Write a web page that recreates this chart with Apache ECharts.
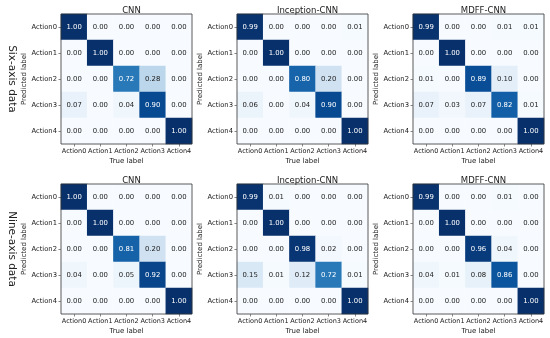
<!DOCTYPE html>
<html><head><meta charset="utf-8">
<script src="https://cdn.jsdelivr.net/npm/echarts@6/dist/echarts.min.js"></script>
<style>html,body{margin:0;padding:0;background:#fff}#c{width:550px;height:338px}</style>
</head><body><div id="c"></div>
<script>
const actions = ['Action0','Action1','Action2','Action3','Action4'];
const modelNames = ['CNN','Inception-CNN','MDFF-CNN'];
const rowNames = ['Six-axis data','Nine-axis data'];
// rows = predicted label, columns = true label
const cnnSix = [
  [1.00,0.00,0.00,0.00,0.00],
  [0.00,1.00,0.00,0.00,0.00],
  [0.00,0.00,0.72,0.28,0.00],
  [0.07,0.00,0.04,0.90,0.00],
  [0.00,0.00,0.00,0.00,1.00]];
const inceptionSix = [
  [0.99,0.00,0.00,0.00,0.01],
  [0.00,1.00,0.00,0.00,0.00],
  [0.00,0.00,0.80,0.20,0.00],
  [0.06,0.00,0.04,0.90,0.00],
  [0.00,0.00,0.00,0.00,1.00]];
const mdffSix = [
  [0.99,0.00,0.00,0.01,0.01],
  [0.00,1.00,0.00,0.00,0.00],
  [0.01,0.00,0.89,0.10,0.00],
  [0.07,0.03,0.07,0.82,0.01],
  [0.00,0.00,0.00,0.00,1.00]];
const cnnNine = [
  [1.00,0.00,0.00,0.00,0.00],
  [0.00,1.00,0.00,0.00,0.00],
  [0.00,0.00,0.81,0.20,0.00],
  [0.04,0.00,0.05,0.92,0.00],
  [0.00,0.00,0.00,0.00,1.00]];
const inceptionNine = [
  [0.99,0.01,0.00,0.00,0.00],
  [0.00,1.00,0.00,0.00,0.00],
  [0.00,0.00,0.98,0.02,0.00],
  [0.15,0.01,0.12,0.72,0.01],
  [0.00,0.00,0.00,0.00,1.00]];
const mdffNine = [
  [0.99,0.00,0.00,0.01,0.00],
  [0.00,1.00,0.00,0.00,0.00],
  [0.00,0.00,0.96,0.04,0.00],
  [0.04,0.01,0.08,0.86,0.00],
  [0.00,0.00,0.00,0.00,1.00]];

const matrices = [cnnSix, inceptionSix, mdffSix, cnnNine, inceptionNine, mdffNine];
const blues = ['#f7fbff','#deebf7','#c6dbef','#9ecae1','#6baed6','#4292c6','#2171b5','#08519c','#08306b'];
const FONT = 'DejaVu Sans';
const lefts = [61, 237, 413];
const tops = [14, 184];
const W = 131, H = 130;

const grids = [], xAxes = [], yAxes = [], series = [], titles = [];
matrices.forEach((m, i) => {
  const r = Math.floor(i / 3), c = i % 3;
  grids.push({left: lefts[c], top: tops[r], width: W, height: H, show: true,
    borderColor: '#333', borderWidth: 0.8, backgroundColor: 'transparent', z: 10, containLabel: false});
  xAxes.push({type: 'category', gridIndex: i, data: actions, position: 'bottom',
    name: 'True label', nameLocation: 'middle', nameGap: 14,
    nameTextStyle: {fontFamily: FONT, fontSize: 7, color: '#222'},
    axisLine: {show: false}, splitLine: {show: false},
    axisTick: {show: true, alignWithLabel: true, length: 2.5, lineStyle: {color: '#333', width: 0.6}},
    axisLabel: {fontFamily: FONT, fontSize: 6.5, color: '#222', margin: 4, interval: 0}});
  yAxes.push({type: 'category', gridIndex: i, data: actions, inverse: true,
    name: 'Predicted label', nameLocation: 'middle', nameGap: 33,
    nameTextStyle: {fontFamily: FONT, fontSize: 7, color: '#222'},
    axisLine: {show: false}, splitLine: {show: false},
    axisTick: {show: true, alignWithLabel: true, length: 2.5, lineStyle: {color: '#333', width: 0.6}},
    axisLabel: {fontFamily: FONT, fontSize: 6.8, color: '#222', margin: 4, interval: 0}});
  const data = [];
  m.forEach((row, yi) => row.forEach((v, xi) => {
    data.push({value: [xi, yi, v], label: {color: v > 0.5 ? '#ffffff' : '#222222'}});
  }));
  series.push({type: 'heatmap', xAxisIndex: i, yAxisIndex: i, data: data,
    label: {show: true, fontFamily: FONT, fontSize: 6.9, formatter: p => p.value[2].toFixed(2)},
    itemStyle: {borderWidth: 0}, emphasis: {disabled: true}});
  titles.push({text: modelNames[c], left: lefts[c] + W / 2, top: tops[r] - 13, textAlign: 'center',
    textStyle: {fontFamily: FONT, fontSize: 8.5, fontWeight: 'normal', color: '#222'}});
});

const chart = echarts.init(document.getElementById('c'), null, {renderer: 'canvas'});
chart.setOption({
  animation: false,
  backgroundColor: '#fff',
  title: titles,
  grid: grids, xAxis: xAxes, yAxis: yAxes, series: series,
  visualMap: {show: false, type: 'continuous', min: 0, max: 1, dimension: 2,
    seriesIndex: [0,1,2,3,4,5], inRange: {color: blues}},
  graphic: rowNames.map((t, r) => ({type: 'text', x: 12, y: tops[r] + H / 2, rotation: -Math.PI / 2,
    style: {text: t, fontFamily: FONT, fontSize: 10.5, fill: '#222', textAlign: 'center', textVerticalAlign: 'middle'}}))
});
</script></body></html>
